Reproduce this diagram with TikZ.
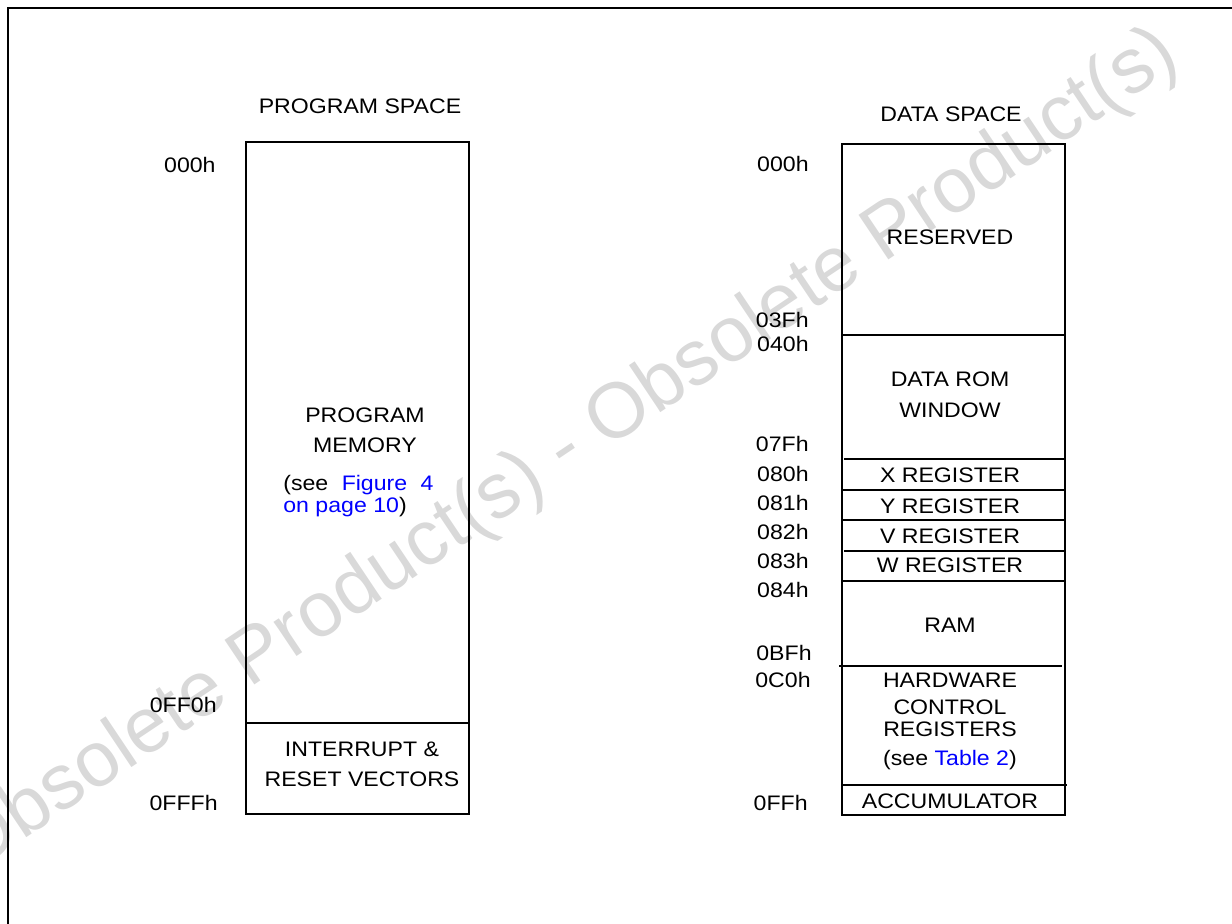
\documentclass[tikz,border=0pt]{standalone}
\usepackage{fontspec}
\usepackage{tikz}
\setmainfont[FakeStretch=1.1]{Liberation Sans}
\newfontfamily\wmfont{Liberation Sans}

\tikzset{
	lbl/.style={font=\fontsize{10.5}{13.5}\selectfont, inner sep=0pt},
	addr/.style={lbl, anchor=base east},
	txt/.style={lbl, anchor=base, align=center},
	box/.style={line width=1pt},
	wmark/.style={font=\wmfont\fontsize{39}{47}\selectfont, text=black!15, inner sep=0pt, anchor=base west, rotate=33.8}
}

\begin{document}
\begin{tikzpicture}[x=0.5pt, y=-0.5pt]
	\useasboundingbox (0,0) rectangle (1232,924);
	\node[wmark] (obs) at (-28,874) {Obsolete Product(s) - Obsolete Product(s)};
	\draw[line width=1pt] (8,924) -- (8,8) -- (1232,8);

	\begin{scope}
	  % program space
	  \draw[box] (246,142) rectangle (469,814);
	  \draw[box] (246,723) -- (469,723);
	  \node[txt] (progspace) at (360,114) {PROGRAM SPACE};
	  \node[txt] (progmem) at (365,453) {PROGRAM\\[1.5pt]MEMORY};
	  \node[lbl, anchor=base west, align=left] (progsee) at (283,513) {(see\hspace{3.5pt} \textcolor{blue}{Figure\hspace{3.5pt} 4}\\[-2.2pt]\textcolor{blue}{on page 10})};
	  \node[txt] (vectors) at (362,786) {INTERRUPT \&\\[1.5pt]RESET VECTORS};
	  \node[addr] (p000) at (216,173) {000h};
	  \node[addr] (p0ff0) at (217,712) {0FF0h};
	  \node[addr] (p0fff) at (218,810) {0FFFh};
	\end{scope}

	\begin{scope}
	  % data space
	  \draw[box] (842,144) rectangle (1065,815);
	  \draw[box] (842,335) -- (1065,335);
	  \draw[box] (844,459) -- (1065,459);
	  \draw[box] (842,490) -- (1065,490);
	  \draw[box] (842,520) -- (1065,520);
	  \draw[box] (844,551) -- (1065,551);
	  \draw[box] (842,581) -- (1065,581);
	  \draw[box] (839,666) -- (1062,666);
	  \draw[box] (842,785) -- (1067,785);
	  \node[txt] (dataspace) at (951,122) {DATA SPACE};
	  \node[txt] (reserved) at (950,245) {RESERVED};
	  \node[txt] (romwin) at (950,418) {DATA ROM\\[2pt]WINDOW};
	  \node[txt] (xreg) at (950,483) {X REGISTER};
	  \node[txt] (yreg) at (950,514) {Y REGISTER};
	  \node[txt] (vreg) at (950,544) {V REGISTER};
	  \node[txt] (wreg) at (950,573) {W REGISTER};
	  \node[txt] (ram) at (950,633) {RAM};
	  \node[txt] (hwctrl) at (950,765) {HARDWARE\\CONTROL\\[-2.5pt]REGISTERS\\[1pt](see \textcolor{blue}{Table 2})};
	  \node[txt] (acc) at (950,808) {ACCUMULATOR};
	  \node[addr] (d000) at (809,172) {000h};
	  \node[addr] (d03f) at (809,328) {03Fh};
	  \node[addr] (d040) at (809,352) {040h};
	  \node[addr] (d07f) at (809,452) {07Fh};
	  \node[addr] (d080) at (809,482) {080h};
	  \node[addr] (d081) at (809,511) {081h};
	  \node[addr] (d082) at (809,540) {082h};
	  \node[addr] (d083) at (809,569) {083h};
	  \node[addr] (d084) at (809,598) {084h};
	  \node[addr] (d0bf) at (812,661) {0BFh};
	  \node[addr] (d0c0) at (811,688) {0C0h};
	  \node[addr] (d0ff) at (808,810) {0FFh};
	\end{scope}
\end{tikzpicture}
\end{document}
